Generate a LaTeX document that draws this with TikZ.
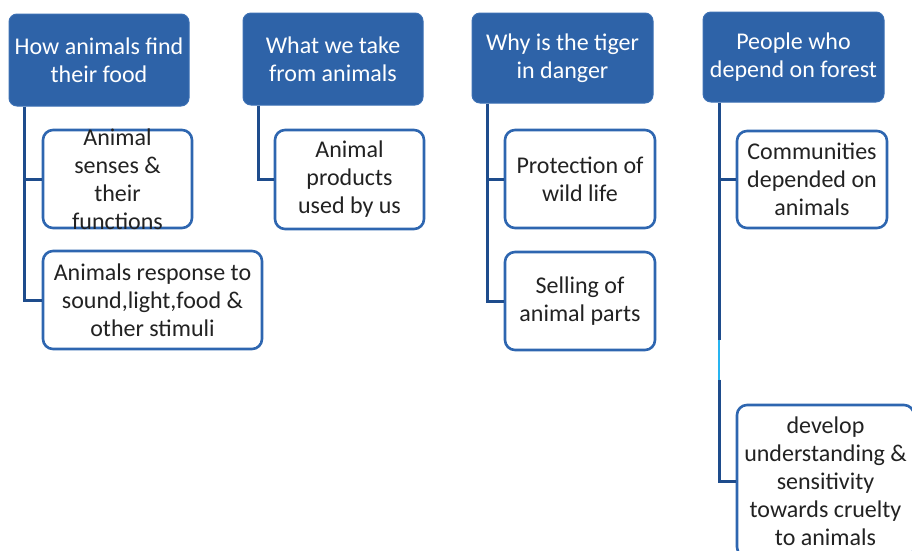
\documentclass[tikz,border=0pt]{standalone}
\usepackage{fontspec}
\setmainfont{Carlito}
\definecolor{hfill}{RGB}{46,99,168}
\definecolor{hedge}{RGB}{60,112,180}
\definecolor{cedge}{RGB}{46,102,176}
\definecolor{conncol}{RGB}{30,76,140}
\definecolor{glitch}{RGB}{40,180,240}
\definecolor{txt}{RGB}{34,34,34}
\begin{document}
\begin{tikzpicture}[x=1pt,y=-1pt,
  header/.style={draw=hedge, fill=hfill, line width=1pt, rounded corners=8pt,
    text=white, align=center, inner sep=0pt, font=\fontsize{24}{28}\selectfont},
  child/.style={draw=cedge, fill=white, line width=2.6pt, rounded corners=10pt,
    text=txt, align=center, inner sep=0pt, font=\fontsize{24}{28}\selectfont},
  childtext/.style={text=txt, align=center, inner sep=0pt, font=\fontsize{24}{28}\selectfont},
  conn/.style={draw=conncol, line width=3pt},
  glitchline/.style={draw=glitch, line width=1.2pt}]
\useasboundingbox (0,0) rectangle (912,550);
% headers
\node[header, minimum width=180pt, minimum height=92pt] (h1) at (99,60) {How animals find\\their food};
\node[header, minimum width=180pt, minimum height=92pt] (h2) at (333,59) {What we take\\from animals};
\node[header, minimum width=181pt, minimum height=90pt] (h3) at (562.5,58) {Why is the tiger\\in danger};
\node[header, minimum width=181pt, minimum height=90pt] (h4) at (793.5,57) {People who\\depend on forest};
% connector origins
\coordinate (t1) at ([xshift=16pt]h1.south west);
\coordinate (t2) at ([xshift=16pt]h2.south west);
\coordinate (t3) at ([xshift=16pt]h3.south west);
\coordinate (t4) at ([xshift=16.5pt]h4.south west);
% children
\node[child, minimum width=149pt, minimum height=98pt] (a1) at (117.5,179) {};
\node[childtext] (a1t) at (a1.center) {Animal\\senses \&\\their\\functions};
\node[child, minimum width=219pt, minimum height=98pt] (b1) at (152.5,300) {Animals response to\\sound,light,food \&\\other stimuli};
\node[child, minimum width=149pt, minimum height=99pt] (a2) at (349.5,179.5) {Animal\\products\\used by us};
\node[child, minimum width=150pt, minimum height=98pt] (a3) at (580,179) {Protection of\\wild life};
\node[child, minimum width=150pt, minimum height=98pt] (b3) at (580,301) {Selling of\\animal parts};
\node[child, minimum width=150pt, minimum height=97pt] (a4) at (812,179.5) {Communities\\depended on\\animals};
\node[child, minimum width=177pt, minimum height=152pt] (b4) at (825.5,481) {develop\\understanding \&\\sensitivity\\towards cruelty\\to animals};
% connectors
\draw[conn] (t1) |- (a1.west);
\draw[conn] (t1) |- (b1.west);
\draw[conn] (t2) |- (a2.west);
\draw[conn] (t3) |- (a3.west);
\draw[conn] (t3) |- (b3.west);
\draw[conn] (t4) |- (a4.west);
\coordinate (g1) at ([yshift=-237pt]t4);
\coordinate (g2) at ([yshift=-277pt]t4);
\draw[conn] (t4) -- (g1);
\draw[glitchline] (g1) -- (g2);
\draw[conn] (g2) |- (b4.west);
\end{tikzpicture}
\end{document}
